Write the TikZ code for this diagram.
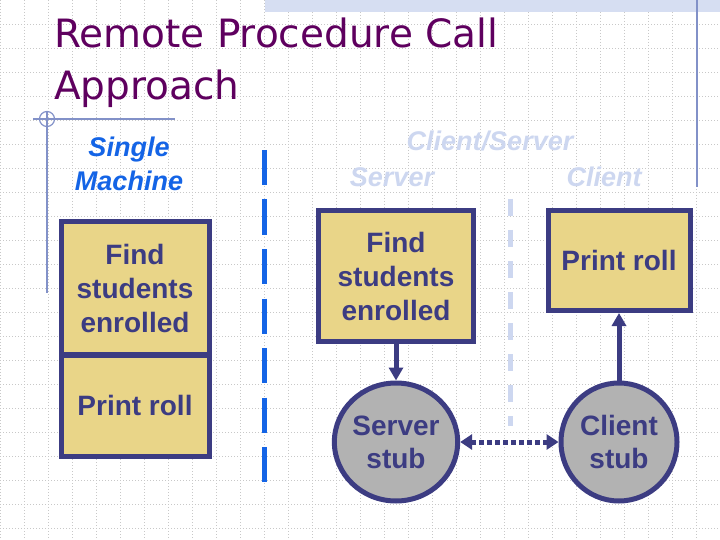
\documentclass[tikz,border=0pt]{standalone}
\usepackage{fontspec}
\setmainfont{Liberation Sans}
\newfontfamily\titlefont{DejaVu Sans}
\usetikzlibrary{arrows.meta,shapes.geometric}
\definecolor{navy}{RGB}{60,60,130}
\definecolor{boxfill}{RGB}{233,213,136}
\definecolor{stubgray}{RGB}{178,178,178}
\definecolor{brightblue}{RGB}{20,100,230}
\definecolor{paleblue}{RGB}{205,215,240}
\definecolor{titlepurple}{RGB}{95,0,95}
\definecolor{gridgray}{RGB}{200,200,200}
\definecolor{decoblue}{RGB}{130,145,200}
\definecolor{bandblue}{RGB}{214,222,242}
\tikzset{
  gridline/.style={gridgray, line width=0.8pt, dash pattern=on 1pt off 2pt},
  decoline/.style={decoblue, line width=1.2pt},
  titletext/.style={anchor=base west, inner sep=0pt, text=titlepurple, font=\titlefont\fontsize{39}{39}\selectfont},
  headlabel/.style={inner sep=0pt, align=center, font=\bfseries\itshape\fontsize{27}{34}\selectfont},
  procbox/.style={draw=navy, line width=5pt, fill=boxfill, text=navy, align=center, inner sep=0pt,
    font=\bfseries\fontsize{28}{34}\selectfont},
  stubnode/.style={ellipse, draw=navy, line width=5pt, fill=stubgray, text=navy, align=center, inner sep=0pt,
    minimum width=116pt, minimum height=118pt, font=\bfseries\fontsize{28}{33}\selectfont},
  flow/.style={navy, line width=5pt, -{Triangle[width=14pt,length=13pt]}},
  msgflow/.style={navy, line width=5pt, dash pattern=on 5pt off 3pt,
    {Triangle[width=15pt,length=12pt]}-{Triangle[width=15pt,length=12pt]}},
  sepmain/.style={brightblue, line width=5pt, dash pattern=on 35pt off 14.5pt},
  seppale/.style={paleblue, line width=5pt, dash pattern=on 17pt off 14pt}
}
\begin{document}
\begin{tikzpicture}[x=1pt,y=-1pt]
\useasboundingbox (0,0) rectangle (720,540);
\fill[white] (0,0) rectangle (720,540);
% background grid
\foreach \i in {0,...,30} \draw[gridline] (0.5+24*\i,0) -- (0.5+24*\i,540);
\foreach \j in {1,...,22} \draw[gridline] (0,24*\j) -- (720,24*\j);
% top band and decorations
\fill[bandblue] (265,0) rectangle (720,12);
\draw[decoline] (697,0) -- (697,187);
\draw[decoline] (33,119) -- (175,119);
\draw[decoline] (47,111) -- (47,293);
\draw[decoline] (47,119) circle (7.5);
% title
\node[titletext] (title1) at (54,48) {Remote Procedure Call};
\node[titletext] (title2) at (54,100) {Approach};
% headings
\node[headlabel, text=brightblue] (single) at (129,164) {Single\\Machine};
\node[headlabel, text=paleblue] (cs) at (490,141) {Client/Server};
\node[headlabel, text=paleblue] (srvlbl) at (392,177) {Server};
\node[headlabel, text=paleblue] (clilbl) at (604,177) {Client};
% separators
\draw[sepmain] (264,150) -- (264,483);
\draw[seppale] (510,199) -- (510,426);
% single machine boxes
\node[procbox, minimum width=148pt, minimum height=132pt] (lfind) at (135,288) {Find\\students\\enrolled};
\node[procbox, minimum width=148pt, minimum height=101pt] (lprint) at (135,405.5) {Print roll};
% client/server boxes
\node[procbox, minimum width=155pt, minimum height=131pt] (sfind) at (396,276) {Find\\students\\enrolled};
\node[procbox, minimum width=142pt, minimum height=100pt] (cprint) at (619,260.5) {Print roll};
\node[stubnode] (sstub) at (396,442) {Server\\stub};
\node[stubnode] (cstub) at (619,442) {Client\\stub};
% connectors
\draw[flow] (sfind.south) -- (sstub.north);
\draw[flow] (cstub.north) -- (cprint.south);
\draw[msgflow] (sstub.east) -- (cstub.west);
\end{tikzpicture}
\end{document}
